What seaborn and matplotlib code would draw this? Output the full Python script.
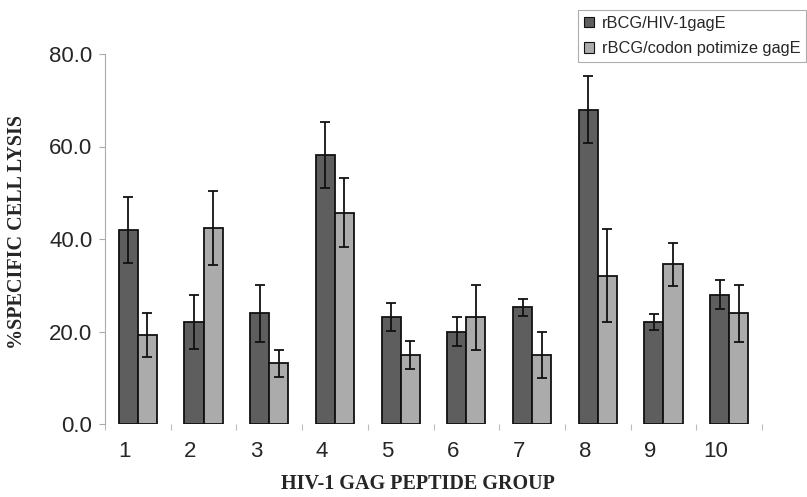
import numpy as np
import pandas as pd
import seaborn as sns
import matplotlib.pyplot as plt
import matplotlib.transforms as mtransforms
from matplotlib.ticker import FixedLocator

# values
groups = ['1', '2', '3', '4', '5', '6', '7', '8', '9', '10']
series_names = ['rBCG/HIV-1gagE', 'rBCG/codon potimize gagE']
hiv_gag = [41.9, 22.1, 23.9, 58.2, 23.1, 20.0, 25.2, 68.0, 22.1, 28.0]
hiv_gag_err = [7.1, 5.8, 6.1, 7.2, 3.0, 3.1, 1.9, 7.2, 1.7, 3.1]
codon_gag = [19.2, 42.3, 13.1, 45.7, 14.9, 23.1, 14.9, 32.1, 34.5, 23.9]
codon_gag_err = [4.7, 8.0, 3.0, 7.4, 3.0, 7.0, 4.9, 10.0, 4.7, 6.1]
y_ticks = [0, 20, 40, 60, 80]

df = pd.DataFrame({
    'group': groups * 2,
    'series': [series_names[0]] * len(groups) + [series_names[1]] * len(groups),
    'lysis': hiv_gag + codon_gag,
})
errs = [hiv_gag_err, codon_gag_err]

sns.set_style('white')
plt.rcParams['font.family'] = ['Liberation Sans', 'DejaVu Sans']

fig = plt.figure(figsize=(8.07, 4.97), dpi=100)
ax = fig.add_axes([105 / 807, 1 - 424 / 497, 657 / 807, 370 / 497])

sns.barplot(data=df, x='group', y='lysis', hue='series', order=groups,
            hue_order=series_names, palette=['#5e5e5e', '#ababab'],
            width=0.58, edgecolor='#111111', linewidth=1.3, errorbar=None,
            ax=ax)

# error bars on top of the bars seaborn placed
for cont, err in zip(ax.containers, errs):
    xs = [b.get_x() + b.get_width() / 2 for b in cont]
    hs = [b.get_height() for b in cont]
    ax.errorbar(xs, hs, yerr=err, fmt='none', ecolor='#111111',
                elinewidth=1.3, capsize=3.8, capthick=1.3, zorder=5)

ax.set_xlim(-0.5, len(groups) - 0.5)
ax.set_ylim(0, 80)
ax.set_yticks(y_ticks)
ax.set_yticklabels([f'{v:.1f}' for v in y_ticks], fontsize=16)
ax.tick_params(axis='y', length=4, width=0.8, color='#aaaaaa', pad=5,
               left=True, direction='out')
ax.tick_params(axis='x', which='major', length=0, pad=12, labelsize=16)
ax.xaxis.set_minor_locator(FixedLocator(np.arange(-0.5, len(groups), 1)))
ax.tick_params(axis='x', which='minor', length=4, width=0.8,
               color='#bbbbbb', bottom=True, direction='out')

# the original labels sit a little left of the bar pairs
shift = mtransforms.ScaledTranslation(-13 / 100, 0, fig.dpi_scale_trans)
for lbl in ax.get_xticklabels():
    lbl.set_transform(lbl.get_transform() + shift)

sns.despine(ax=ax, top=True, right=True, bottom=True)
ax.spines['left'].set_color('#aaaaaa')
ax.spines['left'].set_linewidth(0.8)

ax.set_xlabel('HIV-1 GAG PEPTIDE GROUP', fontsize=14.5, fontweight='bold',
              family='Liberation Serif')
ax.xaxis.set_label_coords(0.476, -0.135)
ax.set_ylabel('%SPECIFIC CELL LYSIS', fontsize=14.5, fontweight='bold',
              family='Liberation Serif')
ax.yaxis.set_label_coords(-0.118, 0.52)

ax.get_legend().remove()
handles = [plt.Rectangle((0, 0), 1, 1, facecolor=c, edgecolor='#111111', linewidth=0.8)
           for c in ['#5e5e5e', '#ababab']]
leg = fig.legend(handles, series_names, loc='upper left',
                 bbox_to_anchor=(578 / 807, 1 - 10 / 497), fontsize=11.8,
                 frameon=True, fancybox=False, handlelength=0.6,
                 handleheight=0.6, handletextpad=0.5, labelspacing=0.65,
                 borderpad=0.35, borderaxespad=0)
leg.get_frame().set_edgecolor('#999999')
leg.get_frame().set_linewidth(0.8)

fig.savefig('out.png', dpi=100)
